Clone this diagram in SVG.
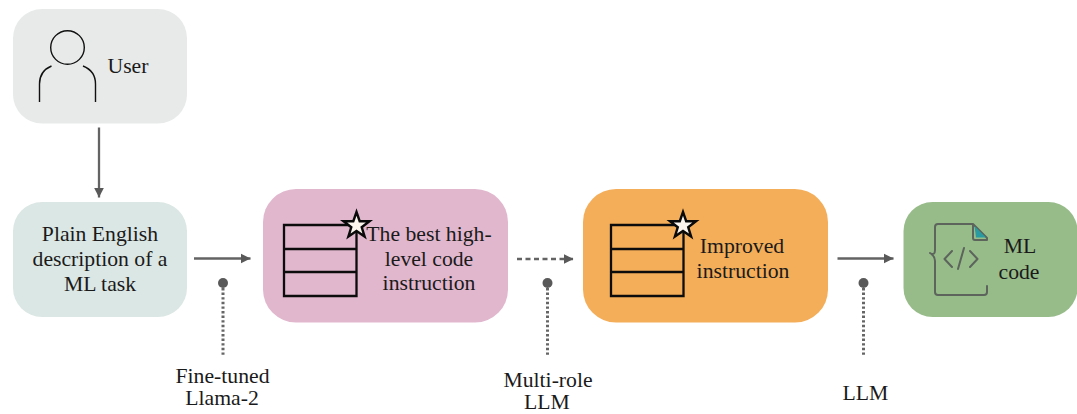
<svg xmlns="http://www.w3.org/2000/svg" width="1077" height="414" viewBox="0 0 1077 414">
<style>
text{font-family:"Liberation Serif","Times New Roman",serif;font-size:21.7px;fill:#1a1a1a;text-anchor:middle}
.c{fill:none;stroke:#636363;stroke-width:2.300}
.d{fill:none;stroke:#666;stroke-width:3;stroke-dasharray:2.400 2.200}
.dot{fill:#595959}
.l{fill:none;stroke:#111;stroke-width:1.400}
.t{fill:none;stroke:#0c0c0c;stroke-width:2.300}
.s{fill:#fbf5ee;stroke:#0a0a0a;stroke-width:2.400}
.ic{fill:none;stroke:#5c645c;stroke-width:2;stroke-linecap:round;stroke-linejoin:round}
</style>
<defs>
<marker id="a" markerUnits="userSpaceOnUse" markerWidth="12" markerHeight="12" refX="9.500" refY="6" orient="auto"><path d="M0 1.200L9.500 6L0 10.800z" fill="#595959"/></marker>
<polygon id="star" class="s" points="0,-13.500 3.200,-4.300 13,-4.300 5.200,1.700 8.100,11 0,5.400 -8.100,11 -5.200,1.700 -13,-4.300 -3.200,-4.300"/>
</defs>
<g id="connectors">
<path class="c" d="M99 127.500V197.500" marker-end="url(#a)"/>
<path class="c" d="M194 258.500H250.500" marker-end="url(#a)"/>
<path class="c" d="M517 259H573.500" marker-end="url(#a)" stroke-dasharray="5 3.500"/>
<path class="c" d="M837.500 258.500H893.500" marker-end="url(#a)"/>
<circle class="dot" cx="223" cy="283" r="5"/><path class="d" d="M223 288V357"/>
<circle class="dot" cx="547.500" cy="283" r="5"/><path class="d" d="M547.500 288V357"/>
<circle class="dot" cx="863.500" cy="283" r="5"/><path class="d" d="M863.500 288V357"/>
</g>
<g id="user">
<rect x="13" y="9" width="174" height="114.500" rx="29" fill="#e8eaea"/>
<circle class="l" cx="67.500" cy="47.500" r="16.800"/>
<path class="l" d="M39.500 102V84Q39.500 71 51.500 66M95.500 102V84Q95.500 71 83 66"/>
<text x="128" y="73">User</text>
</g>
<g id="description">
<rect x="13" y="202" width="174" height="115" rx="29" fill="#dbe7e4"/>
<text x="100" y="241">Plain English</text>
<text x="100" y="266">description of a</text>
<text x="100" y="291">ML task</text>
</g>
<g id="best-instruction">
<rect x="263" y="189" width="245" height="133.500" rx="33" fill="#e1b7ce"/>
<path class="t" d="M284 225H356.500V296H284ZM284 249H356.500M284 272H356.500"/>
<use href="#star" x="356.500" y="225.500"/>
<text x="429" y="241">The best high-</text>
<text x="429" y="266">level code</text>
<text x="429" y="290">instruction</text>
</g>
<g id="improved-instruction">
<rect x="583" y="189" width="245" height="133.500" rx="33" fill="#f4ae59"/>
<path class="t" d="M611 225H683.500V296H611ZM611 249H683.500M611 272H683.500"/>
<use href="#star" x="683" y="225.500"/>
<text x="742" y="253">Improved</text>
<text x="743" y="278">instruction</text>
</g>
<g id="ml-code">
<rect x="903.500" y="202" width="174" height="115" rx="29" fill="#97bc8a"/>
<path class="ic" d="M973 224H938Q935 224 935 227V250Q935 256 930 253Q935 256 935 261V292Q935 295 938 295H984Q987 295 987 292V286M987 240V238L973 224V238Q973 240 975 240H987"/>
<path d="M974.500 226L986 237.500L976 237.500Z" fill="#2a9ba0"/>
<path class="ic" d="M952 251L944.500 259L952 267M970 251L977.500 259L970 267M964 248L958 269"/>
<text x="1020" y="253">ML</text>
<text x="1019" y="279">code</text>
</g>
<g id="label-finetuned">
<text x="222.500" y="383">Fine-tuned</text>
<text x="222" y="405">Llama-2</text>
</g>
<g id="label-multirole">
<text x="548" y="387">Multi-role</text>
<text x="547" y="409">LLM</text>
</g>
<g id="label-llm">
<text x="865.500" y="400">LLM</text>
</g>
</svg>
